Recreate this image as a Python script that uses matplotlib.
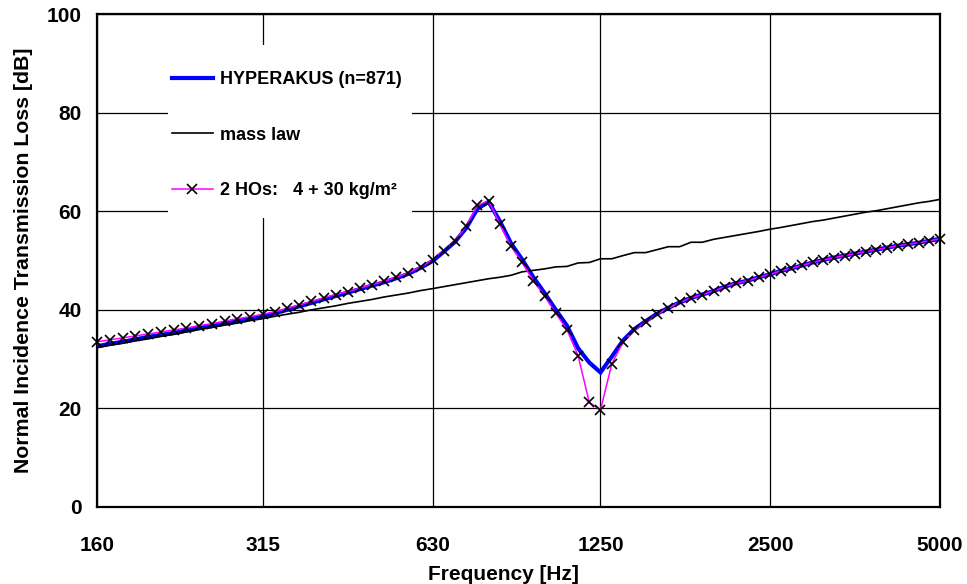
import matplotlib
matplotlib.use("Agg")
import matplotlib.pyplot as plt
from matplotlib.patches import Rectangle

plt.rcParams['font.family'] = ['Liberation Sans', 'DejaVu Sans']
plt.rcParams['font.weight'] = 'bold'

freq_hz = [
    160, 168.6, 177.6, 187.1, 197.1, 207.6, 218.7, 230.4, 242.8, 255.7, 269.4, 283.8, 299.0, 315,
    331.0, 347.8, 365.4, 384.0, 403.5, 423.9, 445.5, 468.1, 491.8, 516.8, 543.0, 570.6, 599.6, 630,
    659.4, 690.3, 722.6, 756.3, 791.7, 828.7, 867.4, 907.9, 950.4, 994.8, 1041.3, 1089.9, 1140.8, 1194.2, 1250,
    1309.1, 1371.0, 1435.8, 1503.7, 1574.8, 1649.3, 1727.3, 1808.9, 1894.5, 1984.1, 2077.9, 2176.1, 2279.0, 2386.8, 2500,
    2610.7, 2726.3, 2847.0, 2973.0, 3104.6, 3242.1, 3385.6, 3535.5, 3692.0, 3855.5, 4026.2, 4204.4, 4390.6, 4584.9, 4787.9, 5000,
]

hyperakus_db = [
    32.6, 33.1, 33.5, 34.0, 34.5, 34.9, 35.3, 35.8, 36.3, 36.7, 37.2, 37.7, 38.2, 38.7,
    39.3, 40.0, 40.7, 41.4, 42.1, 42.8, 43.5, 44.2, 44.9, 45.6, 46.4, 47.3, 48.5, 49.9,
    51.8, 53.8, 56.6, 60.5, 61.9, 58.0, 53.5, 50.2, 46.6, 43.4, 40.0, 36.8, 32.2, 29.3, 27.3,
    30.5, 33.8, 36.1, 37.7, 39.2, 40.4, 41.5, 42.4, 43.1, 43.8, 44.7, 45.4, 45.9, 46.6, 47.2,
    47.9, 48.4, 49.0, 49.6, 50.1, 50.6, 51.0, 51.4, 51.8, 52.2, 52.6, 53.0, 53.3, 53.6, 54.0, 54.4,
]

mass_law_db = [
    32.3, 32.8, 33.2, 33.7, 34.1, 34.6, 35.0, 35.5, 36.0, 36.4, 36.9, 37.3, 37.8, 38.2,
    38.7, 39.1, 39.5, 40.0, 40.4, 40.8, 41.3, 41.7, 42.1, 42.6, 43.0, 43.4, 43.9, 44.3,
    44.7, 45.1, 45.5, 45.9, 46.3, 46.6, 47.0, 47.7, 48.0, 48.3, 48.7, 48.8, 49.5, 49.6, 50.35,
    50.35, 51.0, 51.6, 51.6, 52.2, 52.8, 52.8, 53.7, 53.7, 54.3, 54.7, 55.1, 55.5, 55.9, 56.35,
    56.7, 57.1, 57.5, 57.9, 58.2, 58.6, 59.0, 59.4, 59.8, 60.1, 60.5, 60.9, 61.3, 61.7, 62.0, 62.4,
]

two_hos_db = [
    33.5, 33.9, 34.3, 34.7, 35.1, 35.5, 35.9, 36.3, 36.8, 37.2, 37.7, 38.2, 38.6, 39.1,
    39.6, 40.3, 41.0, 41.7, 42.4, 43.1, 43.7, 44.4, 45.1, 45.8, 46.6, 47.5, 48.7, 50.1,
    52.0, 54.0, 57.0, 61.2, 62.1, 57.4, 52.9, 49.6, 45.9, 42.8, 39.3, 36.0, 30.7, 21.2, 19.7,
    29.0, 33.5, 35.9, 37.5, 39.1, 40.35, 41.5, 42.4, 43.1, 43.8, 44.7, 45.4, 45.9, 46.6, 47.2,
    47.9, 48.4, 49.0, 49.6, 50.1, 50.6, 51.0, 51.4, 51.8, 52.2, 52.6, 53.0, 53.3, 53.6, 54.0, 54.4,
]

x_ticks = [160, 315, 630, 1250, 2500, 5000]
x_tick_labels = ['160', '315', '630', '1250', '2500', '5000']
y_ticks = [0, 20, 40, 60, 80, 100]

series_labels = ['HYPERAKUS (n=871)', 'mass law', '2 HOs:   4 + 30 kg/m\u00b2']

W, H = 967, 584
fig = plt.figure(figsize=(W / 100, H / 100), dpi=100)
L, R, T, B = 97, 940, 14, 507
ax = fig.add_axes([L / W, 1 - B / H, (R - L) / W, (B - T) / H])

ax.set_xscale('log')
ax.set_xlim(160, 5000)
ax.set_ylim(0, 100)
ax.set_axisbelow(True)

l1, = ax.plot(freq_hz, hyperakus_db, color='#0000FF', lw=3.0, zorder=3, solid_joinstyle='miter')
l2, = ax.plot(freq_hz, mass_law_db, color='black', lw=1.2, zorder=4)
l3, = ax.plot(freq_hz, two_hos_db, color='#FF00FF', lw=1.1, zorder=5,
              marker='x', markersize=7.8, markeredgecolor='black', markeredgewidth=1.2,
              clip_on=False)

ax.set_xticks(x_ticks)
ax.set_xticklabels(x_tick_labels)
ax.xaxis.set_minor_locator(matplotlib.ticker.NullLocator())
ax.set_yticks(y_ticks)
ax.set_yticklabels([str(v) for v in y_ticks])
ax.tick_params(axis='both', which='both', length=0, labelsize=15)
ax.tick_params(axis='x', pad=21)
ax.tick_params(axis='y', pad=11)
for lab in ax.get_xticklabels() + ax.get_yticklabels():
    lab.set_fontweight('bold')

ax.grid(True, which='major', color='black', lw=0.9)
for s in ax.spines.values():
    s.set_linewidth(1.6)
    s.set_color('black')

ax.set_xlabel('Frequency [Hz]', fontsize=15, fontweight='bold')
ax.xaxis.set_label_coords((503 - L) / (R - L), -(575 - B) / (B - T))
ax.xaxis.label.set_va('center')
ax.set_ylabel('Normal Incidence Transmission Loss [dB]', fontsize=15.3, fontweight='bold', labelpad=10)

# white legend area covering the grid
bx0, bx1, by0, by1 = 168, 412, 45, 218
ax.add_patch(Rectangle(((bx0 - L) / (R - L), (B - by1) / (B - T)),
                       (bx1 - bx0) / (R - L), (by1 - by0) / (B - T),
                       transform=ax.transAxes, facecolor='white', edgecolor='none', zorder=1))

leg = ax.legend([l1, l2, l3], series_labels, loc='upper left',
                bbox_to_anchor=((172 - L) / (R - L), (B - 71) / (B - T)),
                frameon=False, handlelength=2.25, handletextpad=0.4,
                labelspacing=2.14, borderpad=0, borderaxespad=0,
                prop={'weight': 'bold', 'size': 13})
leg.set_zorder(6)

fig.savefig('out.png', dpi=100)
